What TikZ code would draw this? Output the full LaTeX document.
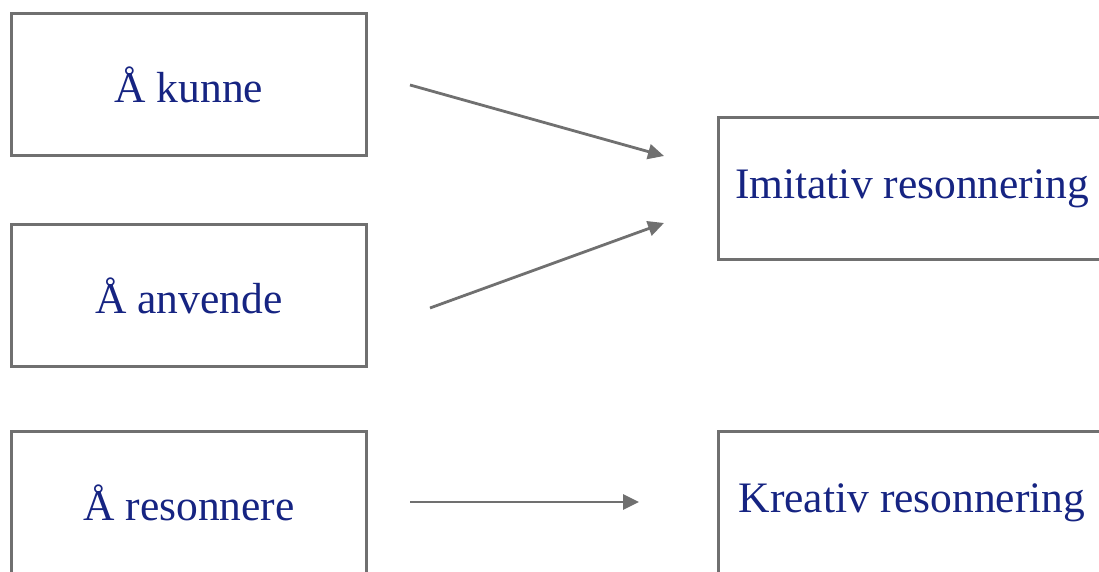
\documentclass[tikz,border=0pt]{standalone}
\usepackage{fontspec}
\setmainfont{Liberation Serif}
\usepackage{tikz}
\usetikzlibrary{arrows,arrows.meta,shapes,positioning}
\usepackage{xcolor}
\definecolor{boxgray}{RGB}{112,112,112}
\definecolor{textnavy}{RGB}{22,36,130}
\tikzstyle{arrow} = [line width=2.8pt,-{Triangle[length=16pt,width=15pt]},color=boxgray]
\tikzstyle{ability} = [rectangle, minimum width=355pt, minimum height=142pt, text centered, draw=boxgray, line width=3pt, text=textnavy, font=\fontsize{43.5}{52}\selectfont]

\begin{document}
\begin{tikzpicture}[x=1pt, y=1pt]
\useasboundingbox (0,0) rectangle (1099,572);
\clip (0,0) rectangle (1099,572);

% Abilities on the left
\node[ability] (kunne) at (189,487.5) {Å kunne};
\node[ability] (anvende) at (189,276) {Å anvende};
\node[ability] (resonnere) at (189,69.5) {Å resonnere};

% Kinds of reasoning on the right
\node[ability, minimum width=387pt] (imitativ) at (912,383) {Imitativ resonnering};
\node[ability, minimum width=387pt] (kreativ) at (912,69.5) {Kreativ resonnering};

% Arrow ends
\coordinate (a1) at (410,487);
\coordinate (b1) at (664,416);
\coordinate (a2) at (430,264);
\coordinate (b2) at (664,349);
\coordinate (a3) at (410,70);
\coordinate (b3) at (639,70);

% Arrows
\draw[arrow] (a1) -- (b1);
\draw[arrow] (a2) -- (b2);
\draw[arrow] (a3) -- (b3);
\end{tikzpicture}
\end{document}
